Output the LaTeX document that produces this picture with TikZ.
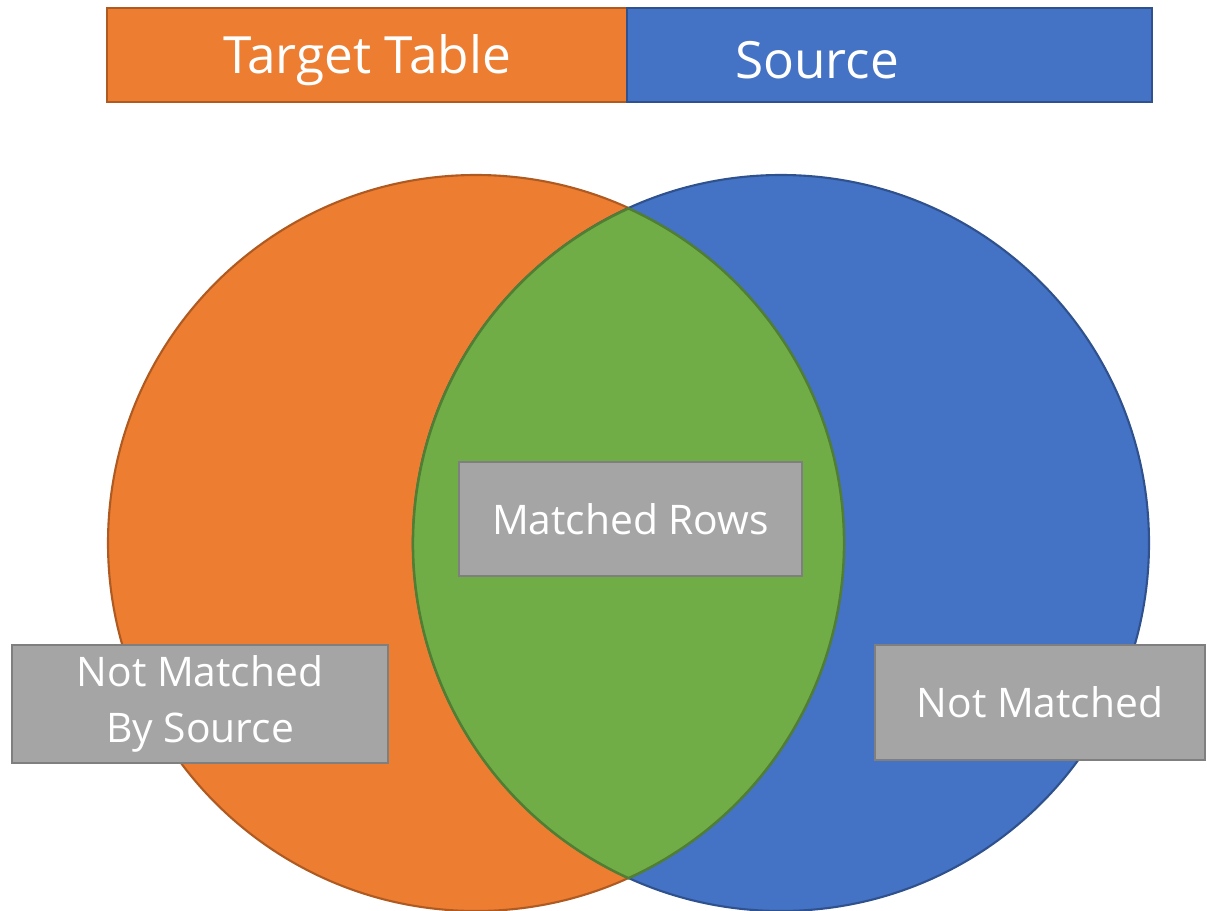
\documentclass[tikz,border=0pt]{standalone}
\usepackage{fontspec}
\setmainfont{Open Sans}
\usepackage{tikz}
\usepackage{xcolor}
\usetikzlibrary{positioning}
\definecolor{targetorange}{HTML}{ED7D31}
\definecolor{targetedge}{HTML}{AE5A21}
\definecolor{sourceblue}{HTML}{4472C4}
\definecolor{sourceedge}{HTML}{2F528F}
\definecolor{matchgreen}{HTML}{70AD47}
\definecolor{matchedge}{HTML}{507E32}
\definecolor{labelgray}{HTML}{A5A5A5}
\definecolor{labeledge}{HTML}{7F7F7F}

\begin{document}
\begin{tikzpicture}[
  x=0.025cm, y=-0.025cm,
  header/.style={rectangle, line width=1.5pt, minimum height=67pt, inner sep=0pt},
  headtext/.style={text=white, font=\fontsize{36.5}{44}\selectfont},
  region/.style={rectangle, draw=labeledge, fill=labelgray, line width=1.5pt, text=white, align=center, inner sep=0pt, font=\fontsize{29}{40}\selectfont}
]
  \useasboundingbox (0,0) rectangle (1207,911);

  % Header bar
  \node[header, draw=targetedge, fill=targetorange, minimum width=370pt] (tgtbar) at (367,55) {};
  \node[header, draw=sourceedge, fill=sourceblue, minimum width=373pt] (srcbar) at (889.5,55) {};
  \node[headtext] (tgtlbl) at (367,60) {Target Table};
  \node[headtext] (srclbl) at (817,60) {Source};

  % Circles
  \coordinate (tgt) at (476,543);
  \coordinate (src) at (781,543);
  \coordinate (lenstop) at (628.5,208.4);
  \filldraw[fill=targetorange, draw=targetedge, line width=1.5pt] (tgt) circle (368);
  \filldraw[fill=sourceblue, draw=sourceedge, line width=1.5pt] (src) circle (368);
  % overlap
  \begin{scope}
    \clip (tgt) circle (368);
    \fill[matchgreen] (src) circle (368);
  \end{scope}
  \draw[matchedge, line width=1.8pt]
    (lenstop) arc[start angle=245.52, end angle=114.48, radius=368]
              arc[start angle=65.52, end angle=-65.52, radius=368] -- cycle;

  % Labels
  \node[region, minimum width=244pt, minimum height=81pt] (matched) at (630.5,519) {Matched Rows};
  \node[region, minimum width=267pt, minimum height=84pt] (bysource) at (200,704) {Not Matched\\By Source};
  \node[region, minimum width=235pt, minimum height=82pt] (bytarget) at (1040,702.5) {Not Matched};
\end{tikzpicture}
\end{document}
